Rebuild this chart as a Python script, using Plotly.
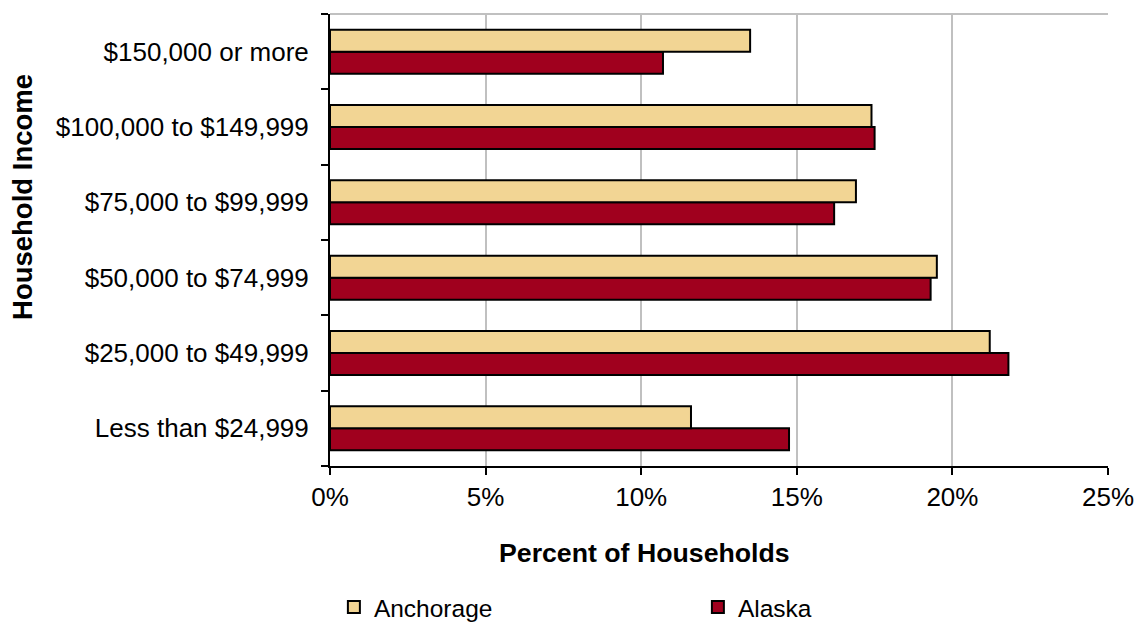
import plotly.graph_objects as go

# Household income brackets, bottom to top
income_brackets = [
    "Less than $24,999",
    "$25,000 to $49,999",
    "$50,000 to $74,999",
    "$75,000 to $99,999",
    "$100,000 to $149,999",
    "$150,000 or more",
]

# Percent of households in each bracket
anchorage_pct = [11.6, 21.2, 19.5, 16.9, 17.4, 13.5]
alaska_pct = [14.75, 21.8, 19.3, 16.2, 17.5, 10.7]

x_ticks = [0, 5, 10, 15, 20, 25]
x_tick_labels = ["0%", "5%", "10%", "15%", "20%", "25%"]

FONT = "Arial, 'Liberation Sans', sans-serif"
ANCHORAGE_COLOR = "#F2D594"
ALASKA_COLOR = "#A0001E"

fig = go.Figure()

# Alaska first so Anchorage sits on top within each bracket
fig.add_trace(go.Bar(
    y=income_brackets, x=alaska_pct, orientation="h", name="Alaska",
    marker=dict(color=ALASKA_COLOR, line=dict(color="black", width=2)),
))
fig.add_trace(go.Bar(
    y=income_brackets, x=anchorage_pct, orientation="h", name="Anchorage",
    marker=dict(color=ANCHORAGE_COLOR, line=dict(color="black", width=2)),
))

fig.update_layout(
    width=1145, height=622,
    margin=dict(l=330, r=37, t=14, b=156, autoexpand=False),
    paper_bgcolor="white", plot_bgcolor="white",
    barmode="group", bargap=0.415, bargroupgap=0,
    font=dict(family=FONT, size=26, color="black"),
    showlegend=True,
    legend=dict(
        orientation="h", traceorder="reversed",
        x=0.005, xanchor="left", y=-0.312, yanchor="middle",
        entrywidth=319, entrywidthmode="pixels",
        font=dict(size=24.5, color="black"),
        itemwidth=30,
    ),
    xaxis=dict(
        range=[0, 25], tickmode="array", tickvals=x_ticks, ticktext=x_tick_labels,
        showgrid=True, gridcolor="#C0C0C0", gridwidth=2,
        showline=True, linecolor="black", linewidth=2,
        ticks="outside", ticklen=7, tickwidth=2, tickcolor="black",
        tickfont=dict(size=26),
        zeroline=False,
    ),
    yaxis=dict(
        showline=True, linecolor="black", linewidth=2,
        ticks="outside", ticklen=7, tickwidth=2, tickcolor="black",
        tickson="boundaries", showgrid=False,
        tickfont=dict(size=26),
        ticklabelstandoff=14,
    ),
    annotations=[
        dict(
            text="<b>Percent of Households</b>", xref="paper", yref="paper",
            x=0.4036, y=-0.1925, xanchor="center", yanchor="middle",
            showarrow=False, font=dict(size=26.7),
        ),
        dict(
            text="<b>Household Income</b>", xref="paper", yref="paper",
            x=-0.396, y=0.595, xanchor="center", yanchor="middle",
            textangle=-90, showarrow=False, font=dict(size=27.5),
        ),
    ],
    shapes=[dict(
        type="line", xref="paper", yref="paper", x0=0, x1=1, y0=1, y1=1,
        line=dict(color="#C0C0C0", width=2), layer="below",
    )],
)

fig.write_html("out.html")
